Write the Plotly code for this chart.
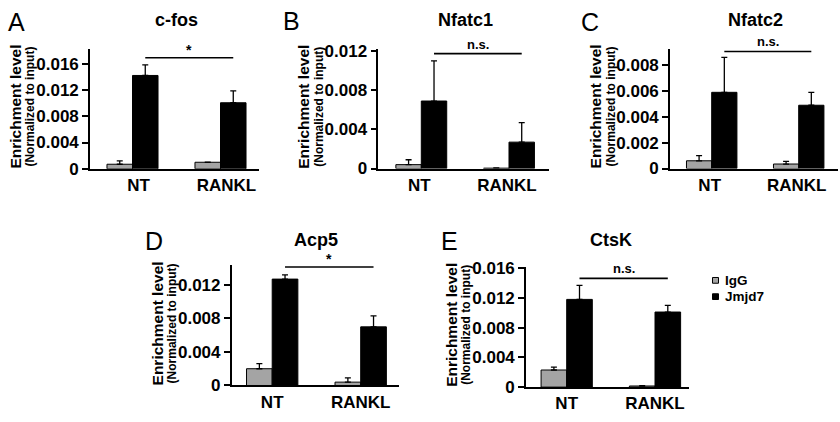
import plotly.graph_objects as go

# ---------------- data ----------------
groups = ["NT", "RANKL"]
series_names = ["IgG", "Jmjd7"]
genes = ["c-fos", "Nfatc1", "Nfatc2", "Acp5", "CtsK"]
panel_letters = ["A", "B", "C", "D", "E"]

cfos_igg = [0.0007, 0.0010]
cfos_igg_err = [0.0005, 0.0]
cfos_jmjd7 = [0.0142, 0.01005]
cfos_jmjd7_err = [0.0016, 0.0018]

nfatc1_igg = [0.0004, 0.00004]
nfatc1_igg_err = [0.0005, 0.00002]
nfatc1_jmjd7 = [0.0069, 0.0027]
nfatc1_jmjd7_err = [0.0041, 0.0020]

nfatc2_igg = [0.0006, 0.00035]
nfatc2_igg_err = [0.0004, 0.0002]
nfatc2_jmjd7 = [0.0059, 0.0049]
nfatc2_jmjd7_err = [0.0027, 0.0010]

acp5_igg = [0.0020, 0.0004]
acp5_igg_err = [0.0006, 0.0005]
acp5_jmjd7 = [0.0127, 0.0070]
acp5_jmjd7_err = [0.0005, 0.0013]

ctsk_igg = [0.0023, 0.00015]
ctsk_igg_err = [0.0004, 0.00005]
ctsk_jmjd7 = [0.0118, 0.0101]
ctsk_jmjd7_err = [0.0019, 0.0009]

cfos_ticks = [0, 0.004, 0.008, 0.012, 0.016]
cfos_ticklabels = ["0", "0.004", "0.008", "0.012", "0.016"]
nfatc1_ticks = [0, 0.004, 0.008, 0.012]
nfatc1_ticklabels = ["0", "0.004", "0.008", "0.012"]
nfatc2_ticks = [0, 0.002, 0.004, 0.006, 0.008]
nfatc2_ticklabels = ["0", "0.002", "0.004", "0.006", "0.008"]
acp5_ticks = [0, 0.004, 0.008, 0.012]
acp5_ticklabels = ["0", "0.004", "0.008", "0.012"]
ctsk_ticks = [0, 0.004, 0.008, 0.012, 0.016]
ctsk_ticklabels = ["0", "0.004", "0.008", "0.012", "0.016"]

y_max = [0.0182, 0.0122, 0.00924, 0.0144, 0.0161]
sig_labels = ["*", "n.s.", "n.s.", "*", "n.s."]
sig_levels = [0.0169, 0.01174, 0.00906, 0.01415, 0.01463]

igg_all = [cfos_igg, nfatc1_igg, nfatc2_igg, acp5_igg, ctsk_igg]
igg_err_all = [cfos_igg_err, nfatc1_igg_err, nfatc2_igg_err, acp5_igg_err, ctsk_igg_err]
jm_all = [cfos_jmjd7, nfatc1_jmjd7, nfatc2_jmjd7, acp5_jmjd7, ctsk_jmjd7]
jm_err_all = [cfos_jmjd7_err, nfatc1_jmjd7_err, nfatc2_jmjd7_err, acp5_jmjd7_err, ctsk_jmjd7_err]
ticks_all = [cfos_ticks, nfatc1_ticks, nfatc2_ticks, acp5_ticks, ctsk_ticks]
ticklabels_all = [cfos_ticklabels, nfatc1_ticklabels, nfatc2_ticklabels,
                  acp5_ticklabels, ctsk_ticklabels]

# ---------------- layout geometry (pixels) ----------------
W, H = 840, 422
# axis left, axis right, axis top, axis bottom, NT group center, group spacing
geom = [
    (90.0, 259.0, 43.0, 168.0, 132.5, 88.0),
    (378.3, 549.0, 43.0, 167.7, 421.3, 87.7),
    (670.0, 838.0, 43.0, 167.7, 711.7, 87.0),
    (231.7, 399.0, 268.3, 394.3, 272.2, 88.5),
    (526.0, 689.0, 271.0, 396.0, 566.7, 88.3),
]
label_shift = [6, -2, -2, 0, 0]
letter_pos = [(16, 15), (291.5, 14), (590, 15), (154, 243), (449, 243)]
title_y = [13, 13, 13, 242, 242]

FONT = "Liberation Sans, Arial, Helvetica, sans-serif"
IGG_COLOR = "#a4a4a4"
JM_COLOR = "#000000"


def b(t):
    return f"<b>{t}</b>"


fig = go.Figure()
annotations = []
shapes = []
layout_axes = {}

for i in range(5):
    n = i + 1
    xa = "x" if n == 1 else f"x{n}"
    ya = "y" if n == 1 else f"y{n}"
    left, right, top, bottom, c0, sp = geom[i]

    fig.add_trace(go.Bar(
        x=[0, 1], y=igg_all[i], name=series_names[0], xaxis=xa, yaxis=ya,
        marker=dict(color=IGG_COLOR, line=dict(color="black", width=1)),
        error_y=dict(type="data", array=igg_err_all[i], arrayminus=[0, 0],
                     symmetric=False, color="black", thickness=1.3, width=3),
        showlegend=False, offsetgroup="a"))
    fig.add_trace(go.Bar(
        x=[0, 1], y=jm_all[i], name=series_names[1], xaxis=xa, yaxis=ya,
        marker=dict(color=JM_COLOR, line=dict(color="black", width=1)),
        error_y=dict(type="data", array=jm_err_all[i], arrayminus=[0, 0],
                     symmetric=False, color="black", thickness=1.3, width=3),
        showlegend=False, offsetgroup="b"))

    key_x = "xaxis" if n == 1 else f"xaxis{n}"
    key_y = "yaxis" if n == 1 else f"yaxis{n}"
    layout_axes[key_x] = dict(
        domain=[left / W, right / W],
        range=[(left - c0) / sp, (right - c0) / sp],
        anchor=ya, tickvals=[0, 1], ticktext=[b(g) for g in groups],
        showline=True, linecolor="black", linewidth=1.6,
        ticks="", showgrid=False, zeroline=False,
        tickfont=dict(family=FONT, size=17, color="black"),
        ticklabelstandoff=0, ticklabelshift=label_shift[i], fixedrange=True)
    layout_axes[key_y] = dict(
        domain=[1 - bottom / H, 1 - top / H],
        range=[0, y_max[i]], anchor=xa,
        tickvals=ticks_all[i], ticktext=[b(t) for t in ticklabels_all[i]],
        showline=True, linecolor="black", linewidth=1.6,
        ticks="outside", ticklen=6, tickwidth=1.5, tickcolor="black",
        showgrid=False, zeroline=False,
        tickfont=dict(family=FONT, size=17, color="black"),
        fixedrange=True)

    # significance bracket
    shapes.append(dict(type="line", xref=xa, yref=ya,
                       x0=0.145, x1=1.145, y0=sig_levels[i], y1=sig_levels[i],
                       line=dict(color="black", width=1.6)))
    is_star = sig_labels[i] == "*"
    annotations.append(dict(
        xref=xa, yref=ya, x=0.645, y=sig_levels[i], text=b(sig_labels[i]),
        showarrow=False, yanchor="bottom", yshift=(-2 if is_star else 0),
        font=dict(family=FONT, size=(14 if is_star else 13), color="black")))

    # gene title (centered over the bars)
    annotations.append(dict(
        xref=xa, yref="paper", x=0.5, y=1 - title_y[i] / H, text=b(genes[i]),
        showarrow=False, yanchor="middle", xanchor="center",
        font=dict(family=FONT, size=18, color="black")))

    # panel letter
    lx, ly = letter_pos[i]
    annotations.append(dict(
        xref="paper", yref="paper", x=lx / W, y=1 - ly / H, text=panel_letters[i],
        showarrow=False, xanchor="center", yanchor="middle",
        font=dict(family=FONT, size=25, color="black")))

    # y-axis titles (two sizes)
    yc = 1 - ((top + bottom) / 2 - 2) / H
    annotations.append(dict(
        xref="paper", yref="paper", x=(left - 74.5) / W, y=yc,
        text=b("Enrichment level"), textangle=-90, showarrow=False,
        xanchor="center", yanchor="middle",
        font=dict(family=FONT, size=15.5, color="black")))
    annotations.append(dict(
        xref="paper", yref="paper", x=(left - 59.5) / W, y=yc,
        text=b("(Normalized to input)"), textangle=-90, showarrow=False,
        xanchor="center", yanchor="middle",
        font=dict(family=FONT, size=12, color="black")))

# legend (swatch + label)
legend_items = [(series_names[0], IGG_COLOR, 284.5), (series_names[1], JM_COLOR, 301.5)]
for name, col, yy in legend_items:
    shapes.append(dict(type="rect", xref="paper", yref="paper",
                       x0=712.5 / W, x1=718.5 / W, y0=1 - (yy + 3) / H, y1=1 - (yy - 3) / H,
                       fillcolor=col, line=dict(color="black", width=1)))
    annotations.append(dict(xref="paper", yref="paper", x=722.5 / W, y=1 - yy / H,
                            text=b(name), showarrow=False, xanchor="left", yanchor="middle",
                            font=dict(family=FONT, size=13.5, color="black")))

fig.update_layout(
    width=W, height=H, margin=dict(l=0, r=0, t=0, b=0),
    paper_bgcolor="white", plot_bgcolor="white",
    barmode="group", bargap=0.42, bargroupgap=0,
    showlegend=False, annotations=annotations, shapes=shapes,
    font=dict(family=FONT, color="black"),
    **layout_axes)

fig.write_html(
    "out.html", config={"displayModeBar": False},
    post_script="document.body.style.margin='0';document.body.style.overflow='hidden';")
